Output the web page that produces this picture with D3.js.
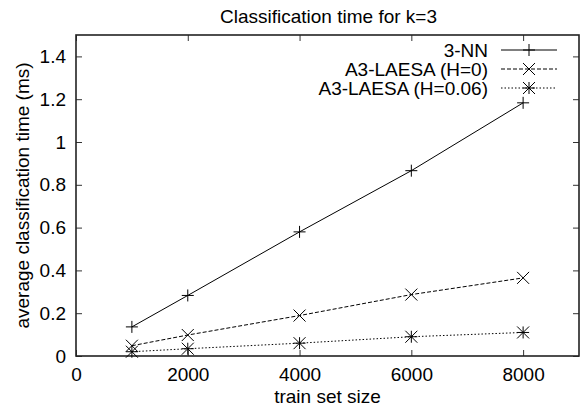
<!DOCTYPE html>
<html>
<head>
<meta charset="utf-8">
<script src="https://cdn.jsdelivr.net/npm/d3@7"></script>
<style>
  body { margin: 0; background: #fff; }
  text { font-family: "Liberation Sans", Arial, sans-serif; fill: #000; }
</style>
</head>
<body>
<svg id="chart" width="585" height="408"></svg>
<script>
// data
var trainSizes = [1000, 2000, 4000, 6000, 8000];
var knn = [0.136, 0.283, 0.580, 0.866, 1.183];
var laesaH0 = [0.048, 0.098, 0.189, 0.287, 0.365];
var laesaH006 = [0.020, 0.034, 0.060, 0.090, 0.110];
var seriesNames = ["3-NN", "A3-LAESA (H=0)", "A3-LAESA (H=0.06)"];
var xTicks = [0, 2000, 4000, 6000, 8000];
var yTicks = [0, 0.2, 0.4, 0.6, 0.8, 1, 1.2, 1.4];

var series = [
    {name: seriesNames[0], values: knn, dash: null, marker: "plus"},
    {name: seriesNames[1], values: laesaH0, dash: "4,2", marker: "cross"},
    {name: seriesNames[2], values: laesaH006, dash: "1.5,2", marker: "star"}
];

var svg = d3.select("#chart");
var m = {left: 76, top: 35, right: 579, bottom: 356};
var fs = "19px";

var x = d3.scaleLinear().domain([0, 9000]).range([m.left, m.right]);
var y = d3.scaleLinear().domain([0, 1.5]).range([m.bottom, m.top]);

// ticks on all four sides, pointing inward
svg.append("g").attr("transform", "translate(0," + m.bottom + ")")
    .call(d3.axisBottom(x).tickValues(xTicks).tickSizeInner(-6).tickSizeOuter(0).tickPadding(12).tickFormat(d3.format("d")));
svg.append("g").attr("transform", "translate(0," + m.top + ")")
    .call(d3.axisTop(x).tickValues(xTicks).tickSizeInner(-6).tickSizeOuter(0).tickFormat(""));
svg.append("g").attr("transform", "translate(" + m.left + ",0)")
    .call(d3.axisLeft(y).tickValues(yTicks).tickSizeInner(-6).tickSizeOuter(0).tickPadding(10).tickFormat(d => d3.format("~g")(d)));
svg.append("g").attr("transform", "translate(" + m.right + ",0)")
    .call(d3.axisRight(y).tickValues(yTicks).tickSizeInner(-6).tickSizeOuter(0).tickFormat(""));

svg.selectAll(".domain").remove();
svg.selectAll(".tick line").style("stroke", "#333").style("stroke-width", 1);
svg.selectAll(".tick text").style("font-size", fs).style("font-family", "Liberation Sans, Arial, sans-serif").style("fill", "#000");

svg.append("rect").attr("x", m.left).attr("y", m.top)
    .attr("width", m.right - m.left).attr("height", m.bottom - m.top)
    .style("fill", "none").style("stroke", "#222").style("stroke-width", 1.6);

// titles
svg.append("text").attr("x", (m.left + m.right) / 2 + 1).attr("y", 23)
    .attr("text-anchor", "middle").style("font-size", fs).text("Classification time for k=3");
svg.append("text").attr("x", (m.left + m.right) / 2).attr("y", 403)
    .attr("text-anchor", "middle").style("font-size", fs).text("train set size");
svg.append("text").attr("transform", "translate(29," + ((m.top + m.bottom) / 2) + ") rotate(-90)")
    .attr("text-anchor", "middle").style("font-size", fs).text("average classification time (ms)");

function drawMarker(g, type, cx, cy) {
    var s = 6;
    var p = "";
    if (type == "plus" || type == "star")
        p += "M" + (cx - s) + "," + cy + "H" + (cx + s) + "M" + cx + "," + (cy - s) + "V" + (cy + s);
    if (type == "cross" || type == "star")
        p += "M" + (cx - s) + "," + (cy - s) + "L" + (cx + s) + "," + (cy + s) +
             "M" + (cx - s) + "," + (cy + s) + "L" + (cx + s) + "," + (cy - s);
    g.append("path").attr("d", p).style("stroke", "#000").style("stroke-width", 1).style("fill", "none");
}

var line = d3.line().x(d => x(d[0])).y(d => y(d[1]));

series.forEach(function(s, i) {
    var pts = trainSizes.map((t, j) => [t, s.values[j]]);
    var g = svg.append("g");
    g.append("path").datum(pts).attr("d", line)
        .style("fill", "none").style("stroke", "#000").style("stroke-width", 1)
        .style("stroke-dasharray", s.dash);
    pts.forEach(p => drawMarker(g, s.marker, x(p[0]), y(p[1])));

    // legend row
    var ly = 50 + i * 19;
    svg.append("text").attr("x", 488).attr("y", ly + 7).attr("text-anchor", "end")
        .style("font-size", fs).text(s.name);
    g.append("line").attr("x1", 501).attr("x2", 557).attr("y1", ly).attr("y2", ly)
        .style("stroke", "#000").style("stroke-width", 1).style("stroke-dasharray", s.dash);
    drawMarker(g, s.marker, 529, ly);
});
</script>
</body>
</html>
